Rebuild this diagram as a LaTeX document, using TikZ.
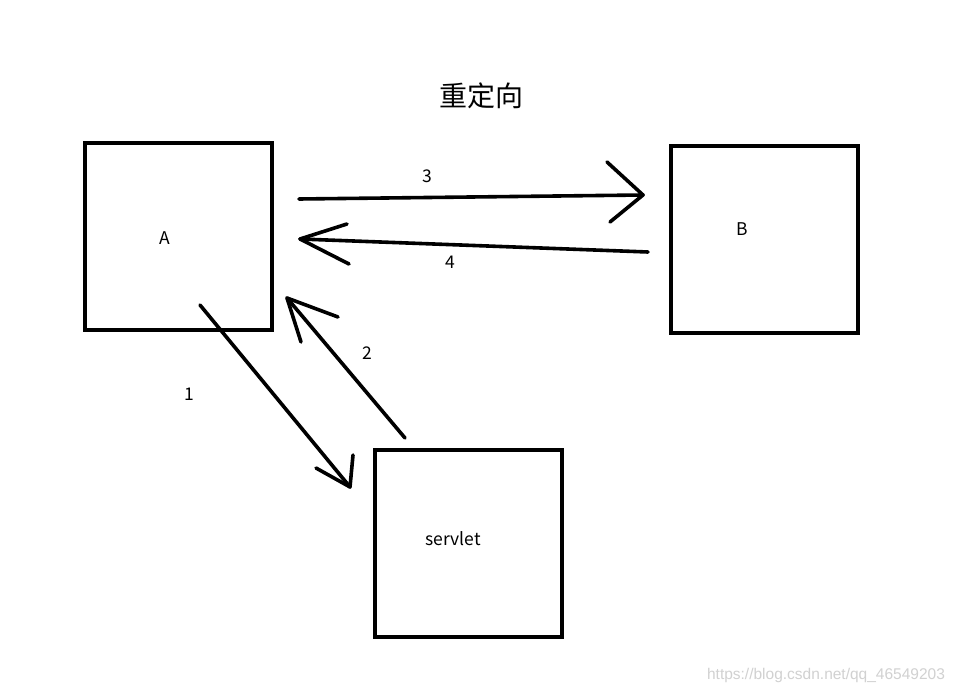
\documentclass[tikz,border=0pt]{standalone}
\usepackage{fontspec}
\setmainfont{Noto Sans CJK SC}
\newfontfamily\wmfont{Liberation Sans}
\begin{document}
\begin{tikzpicture}[x=1pt,y=-1pt,
  box/.style={draw=black,line width=4pt,minimum width=187pt,minimum height=187pt,inner sep=0pt},
  lbl/.style={font=\fontsize{17.5}{20}\selectfont,text=black,inner sep=0pt},
  stroke/.style={line width=3.6pt,line cap=round,line join=round}]
\useasboundingbox (0,0) rectangle (957,692);
\fill[white] (0,0) rectangle (957,692);
% boxes
\node[box] (A) at (178.5,236.5) {};
\node[box] (B) at (764,239.5) {};
\node[box] (S) at (468,543.5) {};
% labels
\node[lbl] (tA) at (165,238) {A};
\node[lbl] (tB) at (742,229) {B};
\node[lbl] (tS) at (453,539) {servlet};
\node[lbl] (t1) at (189,394) {1};
\node[lbl] (t2) at (367,353) {2};
\node[lbl] (t3) at (427,176) {3};
\node[lbl] (t4) at (450,262) {4};
\node[font=\fontsize{28}{31}\selectfont,inner sep=0pt] (title) at (481,96) {重定向};
\node[font=\wmfont\fontsize{15.5}{18}\selectfont,text=black!18,inner sep=0pt] (wm) at (826,675) {https://blog.csdn.net/qq\_46549203};
% arrow 3
\coordinate (a3s) at (299,199);
\coordinate (a3t) at (643,195);
\coordinate (a3h1) at (607,162);
\coordinate (a3h2) at (610,222);
\draw[stroke] (a3s) -- (a3t);
\draw[stroke] (a3h1) -- (a3t) -- (a3h2);
% arrow 4
\coordinate (a4s) at (648,252);
\coordinate (a4t) at (300,239);
\coordinate (a4h1) at (347,224);
\coordinate (a4h2) at (349,264);
\draw[stroke] (a4s) -- (a4t);
\draw[stroke] (a4h1) -- (a4t) -- (a4h2);
% arrow 1
\coordinate (a1s) at (200,305);
\coordinate (a1t) at (350,487);
\coordinate (a1h1) at (316,468);
\coordinate (a1h2) at (353,455);
\draw[stroke] (a1s) -- (a1t);
\draw[stroke] (a1h1) -- (a1t) -- (a1h2);
% arrow 2
\coordinate (a2s) at (405,438);
\coordinate (a2t) at (287,298);
\coordinate (a2h1) at (338,317);
\coordinate (a2h2) at (301,342);
\draw[stroke] (a2s) -- (a2t);
\draw[stroke] (a2h1) -- (a2t) -- (a2h2);
\end{tikzpicture}
\end{document}
